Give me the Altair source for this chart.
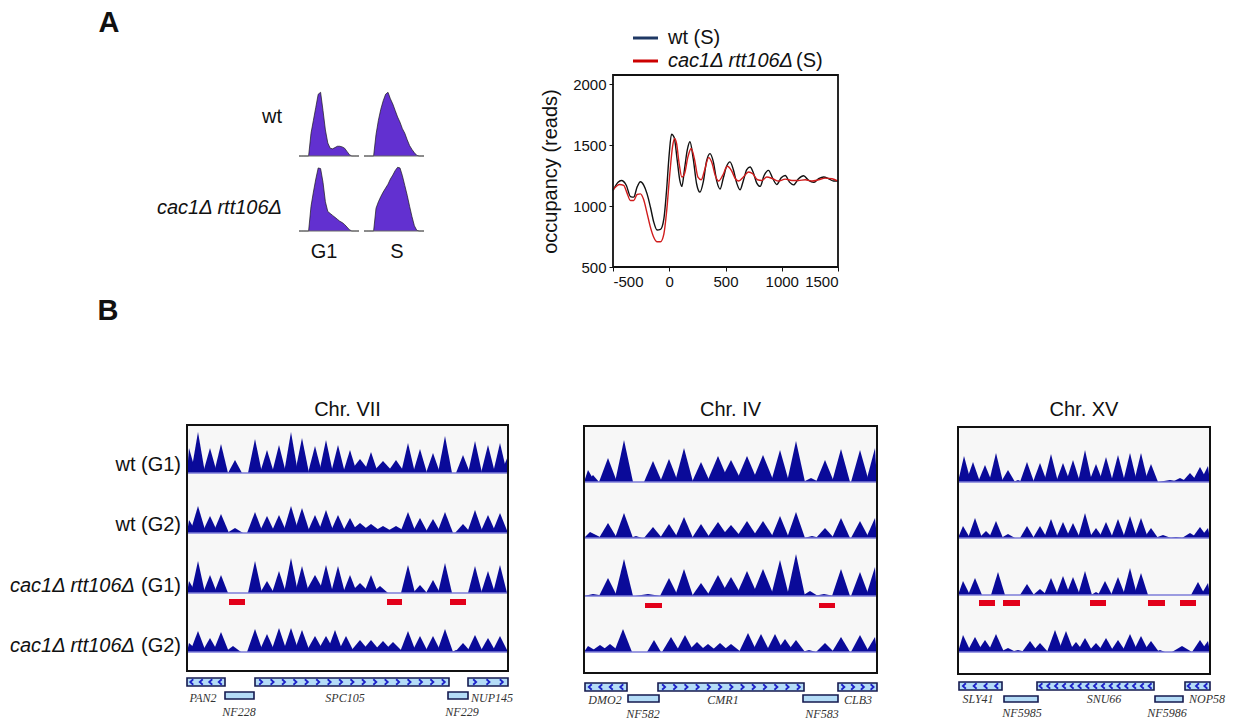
import altair as alt
import pandas as pd

# ---------------- data: panel A, flow cytometry histograms ----------------
hist_x = [0, 4, 8, 12, 16, 20, 24, 28, 32, 36, 40, 44, 48, 52, 56, 60, 64, 68, 72, 76, 80, 84, 88, 92, 96, 100]
hist_wt_g1 = [0, 0, 0, 0, 0, 35, 55, 75, 95, 98, 70, 40, 20, 12, 11, 13, 15, 15, 14, 12, 7, 2, 0, 0, 0, 0]
hist_wt_s = [0, 0, 0, 0, 0, 33, 55, 72, 85, 95, 98, 88, 80, 70, 60, 52, 42, 35, 25, 16, 10, 5, 1, 0, 0, 0]
hist_cac_g1 = [0, 0, 0, 0, 0, 38, 60, 80, 97, 96, 75, 45, 30, 27, 24, 21, 18, 15, 13, 10, 6, 2, 0, 0, 0, 0]
hist_cac_s = [0, 0, 0, 0, 0, 35, 45, 53, 60, 66, 72, 80, 86, 93, 98, 97, 85, 70, 55, 38, 22, 8, 1, 0, 0, 0]

# ---------------- data: panel A, nucleosome occupancy ----------------
wt_bp = [-500, -455, -426, -381, -345, -316, -286, -256, -227, -197, -167, -137, -108, -78, -48, -24, 0, 20, 44, 71, 94, 112,
         136, 160, 184, 213, 243, 273, 302, 332, 362, 392, 421, 451, 481, 510, 540, 570, 600, 629, 659, 689, 719, 748, 778,
         808, 843, 882, 921, 956, 995, 1031, 1069, 1105, 1149, 1194, 1239, 1283, 1328, 1372, 1417, 1461, 1500]
wt_occ = [1128, 1196, 1210, 1169, 1078, 1073, 1155, 1199, 1172, 1100, 990, 866, 803, 808, 894, 1128, 1430, 1590, 1562, 1375,
          1210, 1161, 1306, 1458, 1527, 1389, 1183, 1114, 1196, 1370, 1430, 1362, 1210, 1139, 1232, 1326, 1362, 1298, 1188,
          1133, 1210, 1298, 1320, 1271, 1188, 1161, 1251, 1293, 1224, 1177, 1232, 1251, 1196, 1174, 1224, 1249, 1210, 1194,
          1224, 1238, 1224, 1205, 1205]
cac_bp = [-500, -441, -405, -375, -345, -316, -286, -256, -227, -197, -167, -137, -108, -78, -48, -24, 5, 29, 47, 65, 88, 112,
          136, 166, 195, 225, 255, 285, 314, 350, 380, 409, 439, 475, 516, 552, 588, 617, 659, 704, 742, 784, 823, 867, 921,
          971, 1031, 1090, 1149, 1209, 1268, 1328, 1387, 1447, 1500]
cac_occ = [1133, 1177, 1169, 1106, 1045, 1045, 1095, 1100, 1051, 940, 825, 742, 707, 707, 770, 949, 1265, 1485, 1554, 1513,
           1348, 1238, 1265, 1403, 1472, 1381, 1238, 1216, 1293, 1397, 1353, 1251, 1205, 1251, 1326, 1293, 1224, 1205, 1238,
           1279, 1265, 1216, 1210, 1238, 1224, 1205, 1221, 1210, 1210, 1216, 1205, 1216, 1229, 1224, 1205]

# ---------------- data: panel B, read-density peaks [position, height, (half-width)] ----------------
chr7_wt_g1 = [[2, 25], [11, 41], [23, 25], [34, 29], [48, 13], [68, 34], [80, 23], [92, 28], [104, 41], [115, 35], [128, 27],
              [139, 33], [151, 28], [163, 23], [173, 14, 11], [184, 21], [196, 12, 11], [209, 13, 9], [221, 30], [233, 24],
              [246, 20], [258, 37], [276, 18], [288, 32], [301, 28], [313, 30], [321, 17]]
chr7_wt_g2 = [[2, 13], [11, 27], [23, 17], [34, 19], [48, 5], [68, 21], [80, 17], [92, 18], [104, 27], [115, 25], [128, 18],
              [139, 23], [151, 18], [163, 15], [173, 10, 12], [184, 9, 12], [196, 7, 12], [209, 7, 12], [221, 21], [233, 15],
              [246, 14], [258, 21], [276, 9], [288, 23], [301, 18], [313, 20]]
chr7_cac_g1 = [[2, 12], [11, 32], [23, 18], [34, 18], [68, 32], [80, 12], [92, 22], [104, 35], [115, 27], [128, 18, 10],
               [139, 28], [151, 27], [163, 18], [173, 10, 10], [184, 18], [193, 7, 8], [221, 28], [233, 8], [246, 13],
               [258, 30], [288, 27], [301, 22], [313, 28]]
chr7_cac_g2 = [[2, 9, 10], [11, 21], [23, 14], [34, 20], [46, 6], [68, 23], [80, 18], [92, 24], [104, 24], [115, 22],
               [128, 16, 9], [139, 16, 9], [148, 22], [159, 16], [173, 12, 10], [184, 12, 10], [196, 11, 10], [206, 10, 10],
               [221, 21], [233, 16], [246, 16], [258, 23], [269, 2, 4], [276, 9, 8], [288, 17], [301, 14], [313, 16]]

chr4_wt_g1 = [[4, 12, 7], [9, 7, 6], [24, 24], [40, 42], [69, 21], [85, 23], [100, 34], [117, 20], [134, 26, 11],
              [147, 22, 11], [163, 26, 11], [179, 27, 11], [196, 32], [212, 41], [227, 4, 8], [241, 22], [257, 33],
              [276, 32], [291, 34]]
chr4_wt_g2 = [[6, 6, 12], [24, 15], [40, 25], [52, 2, 6], [69, 11], [85, 14], [100, 21], [117, 14], [134, 16, 11],
              [147, 13, 11], [163, 17, 11], [179, 17, 11], [196, 22], [212, 26], [228, 2, 8], [241, 10], [257, 20],
              [276, 17], [291, 20]]
chr4_cac_g1 = [[9, 2, 12], [24, 18], [40, 37], [64, 2, 13], [85, 18], [100, 27], [117, 13], [134, 21, 11], [147, 19, 11],
               [163, 25, 11], [179, 27, 11], [196, 36], [212, 42], [226, 5, 8], [240, 2, 10], [257, 27], [276, 24],
               [291, 29]]
chr4_cac_g2 = [[4, 6, 10], [16, 7, 10], [26, 8, 10], [39, 23], [70, 12, 7], [87, 15], [101, 17], [113, 10, 10],
               [124, 8, 10], [136, 9, 10], [147, 8, 10], [164, 19], [177, 18], [191, 18], [201, 13], [212, 12],
               [225, 2, 7], [241, 9], [257, 15], [276, 17], [291, 15]]

chr15_wt_g1 = [[6, 26], [15, 20], [27, 17], [38, 29], [50, 12], [60, 2, 5], [69, 20], [82, 19], [93, 28], [105, 19],
               [115, 22], [127, 32], [138, 18], [148, 25], [160, 27], [172, 29], [183, 29], [193, 18], [212, 2, 12],
               [222, 4, 8], [232, 9, 8], [242, 15, 8], [250, 16, 8]]
chr15_wt_g2 = [[5, 12], [17, 20], [28, 7], [38, 17], [50, 4], [69, 12], [82, 12], [93, 19], [105, 16], [115, 15],
               [127, 25], [138, 10], [148, 16], [160, 19], [172, 22], [183, 20], [193, 10], [205, 3, 8], [218, 1, 8],
               [232, 5, 8], [242, 11, 8], [250, 10, 8]]
chr15_cac_g1 = [[5, 14], [17, 17], [40, 23], [69, 11], [82, 6], [93, 17], [105, 19], [115, 18], [127, 24], [138, 3, 5],
                [147, 14], [160, 18], [172, 27], [183, 22], [240, 13], [250, 12]]
chr15_cac_g2 = [[5, 17], [17, 15], [27, 12], [38, 18], [50, 4], [60, 2], [72, 11], [82, 9], [97, 22], [108, 21],
                [118, 10], [127, 14], [138, 9], [148, 14], [160, 12], [172, 18], [183, 16], [193, 11], [202, 2, 5],
                [224, 6, 10], [242, 12, 8], [250, 11, 8]]

# depleted regions (red bars): [start, end]
chr7_red = [[42, 58], [200, 215], [263, 279]]
chr4_red = [[61, 78], [235, 251]]
chr15_red = [[21, 37], [45, 62], [132, 148], [190, 207], [222, 238]]

# genes: name, start, end, row, strand, label position, chevrons
chr7_genes = [["PAN2", 0, 38, 1, -1, 16, 4], ["NF228", 38, 67, 2, 0, 52, 0], ["SPC105", 68, 262, 1, 1, 158, 17],
              ["NF229", 261, 281, 2, 0, 275, 0], ["NUP145", 281, 321, 1, 1, 305, 3]]
chr4_genes = [["DMO2", 1, 43, 1, -1, 21, 4], ["NF582", 44, 75, 2, 0, 59, 0], ["CMR1", 74, 220, 1, 1, 139, 13],
              ["NF583", 219, 254, 2, 0, 238, 0], ["CLB3", 254, 293, 1, 1, 274, 4]]
chr15_genes = [["SLY41", 1, 44, 1, -1, 20, 4], ["NF5985", 46, 80, 2, 0, 64, 0], ["SNU66", 79, 196, 1, -1, 146, 15],
               ["NF5986", 197, 225, 2, 0, 209, 0], ["NOP58", 227, 252, 1, -1, 249, 3]]

track_names = ["wt (G1)", "wt (G2)", "(G1)", "(G2)"]

# ---------------- style / layout ----------------
MX, MY = 8, 16          # page margin (x) ; page margin + top padding (y)
NAVY = "#0a0a99"
BASE = "#7c7cd8"
RED = "#e2001a"
PURPLE = "#6230d0"
GENE_FILL = "#b4dcf7"
GENE_STROKE = "#151a4f"
CHEV = "#1e22c8"
CHEV_R = "M -0.55 -1 L 0.55 0 L -0.55 1"
CHEV_L = "M 0.55 -1 L -0.55 0 L 0.55 1"
SANS = "Liberation Sans"
SERIF = "Liberation Serif"
BIG = 20
W, H = 1220, 706


def scx(dom, a, b, clamp=False):
    return alt.Scale(domain=dom, range=[a - MX, b - MX], clamp=clamp, nice=False, zero=False)


def scy(dom, a, b):
    return alt.Scale(domain=dom, range=[a - MY, b - MY], nice=False, zero=False)


layers = []

# ---- line chart (first, carries the axes) ----
occ = pd.concat([
    pd.DataFrame({"bp": wt_bp, "occ": wt_occ, "s": "wt"}),
    pd.DataFrame({"bp": cac_bp, "occ": cac_occ, "s": "cac"}),
])
LX = scx([-500, 1500], 613, 838)
LY = scy([500, 2075], 267, 75)
layers.append(
    alt.Chart(occ).mark_line(strokeWidth=1.4, interpolate="monotone").encode(
        x=alt.X("bp:Q", scale=LX, axis=alt.Axis(
            orient="bottom", offset=-(H - (267 - MY)), values=[-500, 0, 500, 1000, 1500],
            labelExpr="'' + datum.value", domain=False, grid=False, tickSize=4, tickColor="#111",
            labelFont=SANS, labelFontSize=15, labelColor="#111", labelPadding=3, title=None)),
        y=alt.Y("occ:Q", scale=LY, axis=alt.Axis(
            orient="left", offset=-(613 - MX), values=[500, 1000, 1500, 2000], domain=False, grid=False,
            labelExpr="'' + datum.value",
            tickSize=4, tickColor="#111", labelFont=SANS, labelFontSize=15, labelColor="#111", labelPadding=3,
            title="occupancy (reads)", titleFont=SANS, titleFontSize=BIG, titleFontWeight="normal",
            titleColor="#111", titlePadding=12)),
        color=alt.Color("s:N", scale=alt.Scale(domain=["wt", "cac"], range=["#111111", "#d01c1c"]), legend=None),
        detail="s:N",
    )
)
frame = pd.DataFrame({"x1": [-500], "x2": [1500], "y1": [500], "y2": [2075]})
layers.append(
    alt.Chart(frame).mark_rect(fillOpacity=0, stroke="#111", strokeWidth=1.8).encode(
        x=alt.X("x1:Q", scale=LX, axis=None), x2=alt.X2("x2"),
        y=alt.Y("y1:Q", scale=LY, axis=None), y2=alt.Y2("y2"))
)

# legend
layers.append(alt.Chart(pd.DataFrame({"a": [0]})).mark_rule(color="#1f3864", strokeWidth=3).encode(
    x=alt.value(633 - MX), x2=alt.value(658 - MX), y=alt.value(38 - MY)))
layers.append(alt.Chart(pd.DataFrame({"a": [0]})).mark_rule(color="#cc0000", strokeWidth=3).encode(
    x=alt.value(633 - MX), x2=alt.value(658 - MX), y=alt.value(61 - MY)))
layers.append(alt.Chart(pd.DataFrame({"t": ["wt (S)"]})).mark_text(
    font=SANS, fontSize=BIG, align="left", baseline="middle", color="#111").encode(
    text="t:N", x=alt.value(668 - MX), y=alt.value(38 - MY)))
layers.append(alt.Chart(pd.DataFrame({"t": ["cac1Δ rtt106Δ"]})).mark_text(
    font=SANS, fontSize=BIG, fontStyle="italic", align="left", baseline="middle", color="#111").encode(
    text="t:N", x=alt.value(668 - MX), y=alt.value(61 - MY)))
layers.append(alt.Chart(pd.DataFrame({"t": ["(S)"]})).mark_text(
    font=SANS, fontSize=BIG, align="left", baseline="middle", color="#111").encode(
    text="t:N", x=alt.value(796 - MX), y=alt.value(61 - MY)))

# ---- histograms ----
for vals, x0, base in [(hist_wt_g1, 299, 156), (hist_wt_s, 364, 156), (hist_cac_g1, 299, 231), (hist_cac_s, 364, 231)]:
    hx = scx([0, 100], x0, x0 + 60)
    hy = scy([0, 100], base, base - 65)
    df = pd.DataFrame({"hx": hist_x, "hy": vals})
    layers.append(alt.Chart(df).mark_area(color=PURPLE, opacity=1,
                                          line={"color": "#1a1a1a", "strokeWidth": 0.7}).encode(
        x=alt.X("hx:Q", scale=hx, axis=None), y=alt.Y("hy:Q", scale=hy, axis=None)))
    layers.append(alt.Chart(pd.DataFrame({"a": [0], "b": [100], "c": [0]})).mark_rule(color="#666", strokeWidth=1).encode(
        x=alt.X("a:Q", scale=hx, axis=None), x2=alt.X2("b"), y=alt.Y("c:Q", scale=hy, axis=None)))

for txt, x, y, al, st in [("wt", 282, 117, "right", "normal"), ("cac1Δ rtt106Δ", 282, 208, "right", "italic"),
                          ("G1", 324, 252, "center", "normal"), ("S", 397, 252, "center", "normal")]:
    layers.append(alt.Chart(pd.DataFrame({"t": [txt]})).mark_text(
        font=SANS, fontSize=BIG, fontStyle=st, align=al, baseline="middle", color="#111").encode(
        text="t:N", x=alt.value(x - MX), y=alt.value(y - MY)))

for txt, x, y in [("A", 109, 32), ("B", 108, 320)]:
    layers.append(alt.Chart(pd.DataFrame({"t": [txt]})).mark_text(
        font=SANS, fontSize=29, fontWeight="bold", align="center", baseline="alphabetic", color="#111").encode(
        text="t:N", x=alt.value(x - MX), y=alt.value(y - MY)))


# ---- genome browser panels ----
def panel(cfg):
    L = []
    top, bottom, left, right = cfg["top"], cfg["bottom"], cfg["left"], cfg["right"]
    w, h = right - left, bottom - top
    xs = scx([0, w], left, right)
    xsc = scx([0, w], left, right, clamp=True)
    ys = scy([0, h], top, bottom)
    base = [b - top for b in cfg["bases"]]

    def X(f, s=xs):
        return alt.X(f, type="quantitative", scale=s, axis=None)

    def Y(f):
        return alt.Y(f, type="quantitative", scale=ys, axis=None)

    bg = pd.DataFrame({"x1": [0], "x2": [w], "y1": [0], "y2": [base[-1]]})
    L.append(alt.Chart(bg).mark_rect(color="#f7f7f7").encode(x=X("x1"), x2=alt.X2("x2"), y=Y("y1"), y2=alt.Y2("y2")))

    rows = []
    for ti, (peaks, hw0) in enumerate(zip(cfg["tracks"], cfg["hw"])):
        for pi, p in enumerate(peaks):
            pos, ht = p[0], p[1]
            hw = p[2] if len(p) > 2 else hw0
            gid = f"{ti}-{pi}"
            rows += [(pos - hw, base[ti], base[ti], gid), (pos, base[ti] - ht, base[ti], gid),
                     (pos + hw, base[ti], base[ti], gid)]
    pk = pd.DataFrame(rows, columns=["px", "top", "bot", "gid"])
    L.append(alt.Chart(pk).mark_area(color=NAVY, opacity=1, interpolate="linear", orient="vertical").encode(
        x=X("px", xsc), y=Y("top"), y2=alt.Y2("bot"), detail="gid:N"))

    bl = pd.DataFrame({"x1": [0] * 4, "x2": [w] * 4, "y": base})
    L.append(alt.Chart(bl).mark_rule(color=BASE, strokeWidth=1.3).encode(x=X("x1"), x2=alt.X2("x2"), y=Y("y")))

    ry1, ry2 = cfg["redy"]
    rd = pd.DataFrame({"x1": [r[0] for r in cfg["reds"]], "x2": [r[1] for r in cfg["reds"]],
                       "y1": [ry1 - top] * len(cfg["reds"]), "y2": [ry2 - top] * len(cfg["reds"])})
    L.append(alt.Chart(rd).mark_rect(color=RED).encode(x=X("x1"), x2=alt.X2("x2"), y=Y("y1"), y2=alt.Y2("y2")))

    bd = pd.DataFrame({"x1": [0], "x2": [w], "y1": [0], "y2": [h]})
    L.append(alt.Chart(bd).mark_rect(fillOpacity=0, stroke="#111", strokeWidth=2).encode(
        x=X("x1"), x2=alt.X2("x2"), y=Y("y1"), y2=alt.Y2("y2")))

    # genes
    rowy = cfg["generows"]
    labely = cfg["labelrows"]
    gd = pd.DataFrame({
        "name": [g[0] for g in cfg["genes"]],
        "x1": [g[1] for g in cfg["genes"]],
        "x2": [g[2] for g in cfg["genes"]],
        "y1": [rowy[g[3] - 1][0] - top for g in cfg["genes"]],
        "y2": [rowy[g[3] - 1][1] - top for g in cfg["genes"]],
        "lx": [g[5] for g in cfg["genes"]],
        "ly": [labely[g[3] - 1] - top for g in cfg["genes"]],
    })
    L.append(alt.Chart(gd).mark_rect(color=GENE_FILL, stroke=GENE_STROKE, strokeWidth=1.6).encode(
        x=X("x1"), x2=alt.X2("x2"), y=Y("y1"), y2=alt.Y2("y2")))

    # strand chevrons, evenly spread inside each gene box
    for strand, path in [(1, CHEV_R), (-1, CHEV_L)]:
        cr = []
        for g in cfg["genes"]:
            if g[4] != strand or g[6] == 0:
                continue
            step = (g[2] - g[1]) / g[6]
            yc = (rowy[g[3] - 1][0] + rowy[g[3] - 1][1]) / 2 - top
            for i in range(g[6]):
                cr.append((g[1] + (i + 0.5) * step, yc))
        if cr:
            cd = pd.DataFrame(cr, columns=["cx", "cy"])
            L.append(alt.Chart(cd).mark_point(shape=path, size=30, filled=False, stroke=CHEV, strokeWidth=1.8,
                                              opacity=1).encode(x=X("cx"), y=Y("cy")))

    L.append(alt.Chart(gd).mark_text(font=SERIF, fontSize=12, fontStyle="italic", color="#333",
                                     align="center", baseline="middle").encode(
        x=X("lx"), y=Y("ly"), text="name:N"))

    tt = pd.DataFrame({"t": [cfg["title"]], "x": [w / 2], "y": [410 - top]})
    L.append(alt.Chart(tt).mark_text(font=SANS, fontSize=BIG, color="#111", align="center", baseline="middle").encode(
        x=X("x"), y=Y("y"), text="t:N"))

    if cfg.get("labels"):
        mids = [b - top for b in cfg["labelmids"]]
        nd = pd.DataFrame({"t": track_names, "x": [-6] * 4, "y": mids})
        L.append(alt.Chart(nd).mark_text(font=SANS, fontSize=BIG, color="#111", align="right", baseline="middle").encode(
            x=X("x"), y=Y("y"), text="t:N"))
        idf = pd.DataFrame({"t": ["cac1Δ rtt106Δ"] * 2, "x": [-52] * 2, "y": mids[2:]})
        L.append(alt.Chart(idf).mark_text(font=SANS, fontSize=BIG, fontStyle="italic", color="#111", align="right",
                                          baseline="middle").encode(x=X("x"), y=Y("y"), text="t:N"))
    return L


panels = [
    dict(title="Chr. VII", left=187, right=508, top=425, bottom=671, bases=[473, 533, 593, 652],
         tracks=[chr7_wt_g1, chr7_wt_g2, chr7_cac_g1, chr7_cac_g2], hw=[7, 8, 7, 8], redy=(599, 605),
         reds=chr7_red, genes=chr7_genes, generows=[(678, 686), (692, 699)], labelrows=[698, 712],
         labels=True, labelmids=[465, 525, 586, 646]),
    dict(title="Chr. IV", left=584, right=877, top=426, bottom=673, bases=[482, 538, 596, 652],
         tracks=[chr4_wt_g1, chr4_wt_g2, chr4_cac_g1, chr4_cac_g2], hw=[9, 9, 9, 9], redy=(603, 608),
         reds=chr4_red, genes=chr4_genes, generows=[(683, 691), (695, 702)], labelrows=[700, 714]),
    dict(title="Chr. XV", left=958, right=1210, top=427, bottom=674, bases=[482, 538, 595, 652],
         tracks=[chr15_wt_g1, chr15_wt_g2, chr15_cac_g1, chr15_cac_g2], hw=[7, 7, 7, 8], redy=(600, 606),
         reds=chr15_red, genes=chr15_genes, generows=[(682, 690), (696, 702)], labelrows=[699, 713]),
]
for cfg in panels:
    layers += panel(cfg)

chart = alt.layer(*layers).resolve_scale(x="independent", y="independent", color="independent").properties(
    width=W, height=H, padding={"left": 0, "top": 8, "right": 0, "bottom": 0},
    autosize=alt.AutoSizeParams(type="none")
).configure_view(stroke=None)

chart.save("out.html", embed_options={"renderer": "svg", "actions": False})
